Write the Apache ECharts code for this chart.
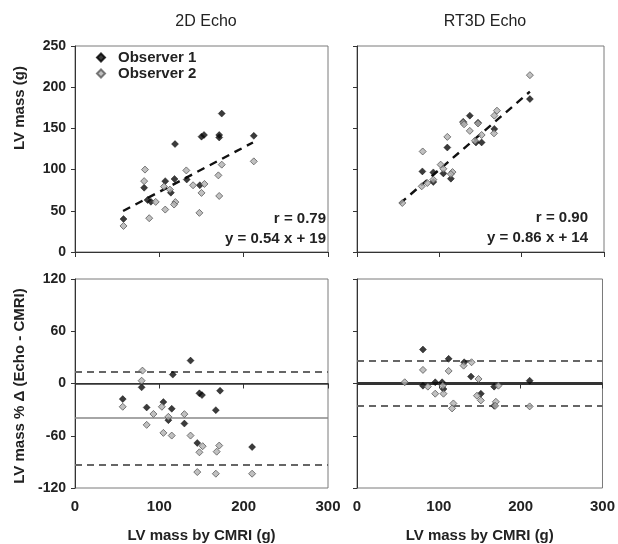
<!DOCTYPE html>
<html>
<head>
<meta charset="utf-8">
<script src="https://cdn.jsdelivr.net/npm/echarts@6/dist/echarts.min.js"></script>
<style>html,body{margin:0;padding:0;background:#fff}#c{width:618px;height:544px}</style>
</head>
<body>
<div id="c"></div>
<script>
// ---- data ----
const panelTitles = ['2D Echo', 'RT3D Echo'];
const seriesNames = ['Observer 1', 'Observer 2'];
const xTicks = [0, 100, 200, 300];
const massTicks = [0, 50, 100, 150, 200, 250];
const diffTicks = [-120, -60, 0, 60, 120];

// Top-left: 2D Echo LV mass vs CMRI
const echo2dObs1 = [[174,168],[118.6,131],[150,140],[153,142],[171,142],[171,139],[212,141],[107,86],[118,88.6],[132.5,88],[82,78],[113.7,72],[148,81],[86,63],[90,61],[57.5,40]];
const echo2dObs2 = [[212,110],[174,106],[170,93],[132,99],[83,100],[82,86],[140,81],[153.5,82.6],[150,71.7],[105.5,79.4],[112.5,75.7],[171,68],[95.7,60.8],[119,60.6],[117.5,57.6],[107,51.5],[147.5,47.5],[88,41],[57.5,31.6]];
const echo2dFitX = [57, 211];
const echo2dSlope = 0.54, echo2dIntercept = 19;
const echo2dStats = ['r = 0.79', 'y = 0.54 x + 19'];

// Top-right: RT3D Echo LV mass vs CMRI
const rt3dObs1 = [[210,185.6],[137,165.5],[109.7,126.8],[79.4,97.8],[92.7,96.6],[104.9,95.4],[114,89],[92.7,85],[144.5,133],[151.4,133],[166.8,149.4],[129,158],[147,157]];
const rt3dObs2 = [[210,214.6],[55,59.5],[79.8,122],[109.7,139.7],[129,157],[130,155],[147,156],[137,147],[170,171.5],[166.8,165.5],[166.4,144],[151.4,142],[143.3,135],[101.6,106],[104.9,101],[116,97],[114,94.6],[92.7,87.8],[85.4,83.7],[78.6,79.7]];
const rt3dFitX = [52, 210];
const rt3dSlope = 0.86, rt3dIntercept = 14;
const rt3dStats = ['r = 0.90', 'y = 0.86 x + 14'];

// Bottom-left: 2D Echo % difference
const ba2dObs1 = [[137,26.3],[116,10.2],[79,-4.4],[147.5,-11.3],[150.6,-13.3],[172,-8.3],[56.6,-17.9],[85,-27.5],[104.8,-21.3],[114.7,-29],[167,-30.6],[110.7,-42.1],[129.7,-46],[145,-68.3],[210,-73]];
const ba2dObs2 = [[80,14.8],[79,3.2],[56.6,-26.7],[103,-26.7],[93,-35],[110.7,-38.3],[129.7,-35.2],[85,-47.5],[104.8,-56.7],[114.7,-59.8],[137,-59.8],[151.4,-72],[147.5,-79],[171,-71.3],[168,-78.3],[145,-101.7],[167,-103.6],[210,-103.6]];
const ba2dMean = -39.5, ba2dUpper = 14, ba2dLower = -93;

// Bottom-right: RT3D Echo % difference
const ba3dObs1 = [[80.6,39],[112,28.3],[131,24.4],[139.3,7.9],[95.6,1.4],[104,1.4],[80.6,-2.5],[105.7,-6.3],[167.6,-3.6],[151.4,-11.7],[211,3.2],[167.6,-25.6]];
const ba3dObs2 = [[58.3,1.4],[80.6,15.6],[112,14.4],[130.3,20.5],[140,24.4],[148.5,5.2],[86.6,-3.6],[104.8,-2.5],[95.6,-11.7],[105.7,-11.7],[146.6,-14],[151.4,-19.4],[172.8,-2.5],[117.8,-22.9],[116.2,-28.6],[169.7,-21],[168.8,-25.6],[211,-26.3]];
const ba3dMean = 0, ba3dUpper = 26, ba3dLower = -26;

const xAxisName = 'LV mass by CMRI (g)';
const yNameTop = 'LV mass (g)';
const yNameBottom = 'LV mass % \u0394 (Echo - CMRI)';

// ---- chart ----
const FONT = 'Arial, "Liberation Sans", sans-serif';
const grids = [
  {left: 75, top: 46, width: 253, height: 206},
  {left: 357, top: 46, width: 247, height: 206},
  {left: 75, top: 279, width: 253, height: 209},
  {left: 357, top: 279, width: 247, height: 209}
].map(g => Object.assign({show: true, borderColor: '#7a7a7a', borderWidth: 1, backgroundColor: 'transparent'}, g));

function xAxis(i, showLabel) {
  return {
    gridIndex: i, type: 'value', min: xTicks[0], max: xTicks[xTicks.length - 1], interval: 100,
    splitLine: {show: false},
    axisLine: {show: true, lineStyle: {color: '#333', width: 1}},
    axisTick: {show: true, length: 5, lineStyle: {color: '#333'}},
    axisLabel: {show: showLabel, fontFamily: FONT, fontWeight: 'bold', fontSize: 15, color: '#222', margin: 11},
    name: showLabel ? xAxisName : '', nameLocation: 'middle', nameGap: 40,
    nameTextStyle: {fontFamily: FONT, fontWeight: 'bold', fontSize: 15, color: '#222'}
  };
}
function yAxis(i, ticks, showLabel) {
  return {
    gridIndex: i, type: 'value', min: ticks[0], max: ticks[ticks.length - 1], interval: ticks[1] - ticks[0],
    splitLine: {show: false},
    axisLine: {show: true, onZero: false, lineStyle: {color: '#333', width: 1}},
    axisTick: {show: true, length: 4, lineStyle: {color: '#333'}},
    axisLabel: {show: showLabel, fontFamily: FONT, fontWeight: 'bold', fontSize: 14, color: '#222', margin: 9}
  };
}
const obs1Style = {symbol: 'diamond', symbolSize: 7, itemStyle: {color: '#0a0a0a', borderColor: '#000', borderWidth: 0.5}};
const obs2Style = {symbol: 'diamond', symbolSize: 7, itemStyle: {color: '#b0b0b0', borderColor: '#5a5a5a', borderWidth: 1}};

function scatter(name, data, idx, style) {
  return Object.assign({type: 'scatter', name: name, data: data, xAxisIndex: idx, yAxisIndex: idx, z: 5}, style);
}
function fitLine(xs, m, b, idx) {
  return {type: 'line', data: xs.map(x => [x, m * x + b]), xAxisIndex: idx, yAxisIndex: idx,
    symbol: 'none', silent: true, z: 4, lineStyle: {color: '#111', width: 2.4, type: [8, 6]}};
}
function refLines(idx, zero, mean, up, low, zeroWidth, meanColor) {
  const data = [
    {yAxis: up, lineStyle: {color: '#666', width: 2, type: [7, 5]}},
    {yAxis: low, lineStyle: {color: '#666', width: 2, type: [7, 5]}},
    {yAxis: zero, lineStyle: {color: '#333', width: zeroWidth, type: 'solid'}}
  ];
  if (mean !== zero) data.push({yAxis: mean, lineStyle: {color: meanColor, width: 1.5, type: 'solid'}});
  return {type: 'line', data: [], xAxisIndex: idx, yAxisIndex: idx, silent: true,
    markLine: {silent: true, symbol: 'none', label: {show: false}, animation: false, data: data}};
}
function statText(lines, right, top) {
  return lines.map((t, k) => ({
    type: 'text', right: right, top: top + k * 20,
    style: {text: t, font: 'bold 15px ' + FONT, fill: '#222', textAlign: 'right'}
  }));
}

const option = {
  animation: false,
  backgroundColor: '#fff',
  title: [
    {text: panelTitles[0], left: 201, top: 9, textAlign: 'center', textStyle: {fontFamily: FONT, fontWeight: 'normal', fontSize: 16, color: '#222'}},
    {text: panelTitles[1], left: 480, top: 9, textAlign: 'center', textStyle: {fontFamily: FONT, fontWeight: 'normal', fontSize: 16, color: '#222'}}
  ],
  legend: {
    data: seriesNames, orient: 'vertical', left: 91, top: 45, itemGap: 1, itemWidth: 8, itemHeight: 8,
    icon: 'diamond',
    textStyle: {fontFamily: FONT, fontWeight: 'bold', fontSize: 15, color: '#222', padding: [0, 0, 0, 8]}
  },
  grid: grids,
  xAxis: [xAxis(0, false), xAxis(1, false), xAxis(2, true), xAxis(3, true)],
  yAxis: [yAxis(0, massTicks, true), yAxis(1, massTicks, false), yAxis(2, diffTicks, true), yAxis(3, diffTicks, false)],
  series: [
    fitLine(echo2dFitX, echo2dSlope, echo2dIntercept, 0),
    scatter(seriesNames[0], echo2dObs1, 0, obs1Style),
    scatter(seriesNames[1], echo2dObs2, 0, obs2Style),
    fitLine(rt3dFitX, rt3dSlope, rt3dIntercept, 1),
    scatter(seriesNames[0], rt3dObs1, 1, obs1Style),
    scatter(seriesNames[1], rt3dObs2, 1, obs2Style),
    refLines(2, 0, ba2dMean, ba2dUpper, ba2dLower, 1.5, '#888'),
    scatter(seriesNames[0], ba2dObs1, 2, obs1Style),
    scatter(seriesNames[1], ba2dObs2, 2, obs2Style),
    refLines(3, 0, ba3dMean, ba3dUpper, ba3dLower, 3, '#333'),
    scatter(seriesNames[0], ba3dObs1, 3, obs1Style),
    scatter(seriesNames[1], ba3dObs2, 3, obs2Style)
  ],
  graphic: [
    {type: 'text', x: 20, y: 108, rotation: Math.PI / 2,
     style: {text: yNameTop, font: 'bold 15px ' + FONT, fill: '#222', align: 'center', verticalAlign: 'middle', textAlign: 'center', textVerticalAlign: 'middle'}},
    {type: 'text', x: 20, y: 386, rotation: Math.PI / 2,
     style: {text: yNameBottom, font: 'bold 15px ' + FONT, fill: '#222', align: 'center', verticalAlign: 'middle', textAlign: 'center', textVerticalAlign: 'middle'}}
  ].concat(statText(echo2dStats, 292, 211), statText(rt3dStats, 30, 210))
};

const chart = echarts.init(document.getElementById('c'), null, {renderer: 'canvas'});
chart.setOption(option);
</script>
</body>
</html>
